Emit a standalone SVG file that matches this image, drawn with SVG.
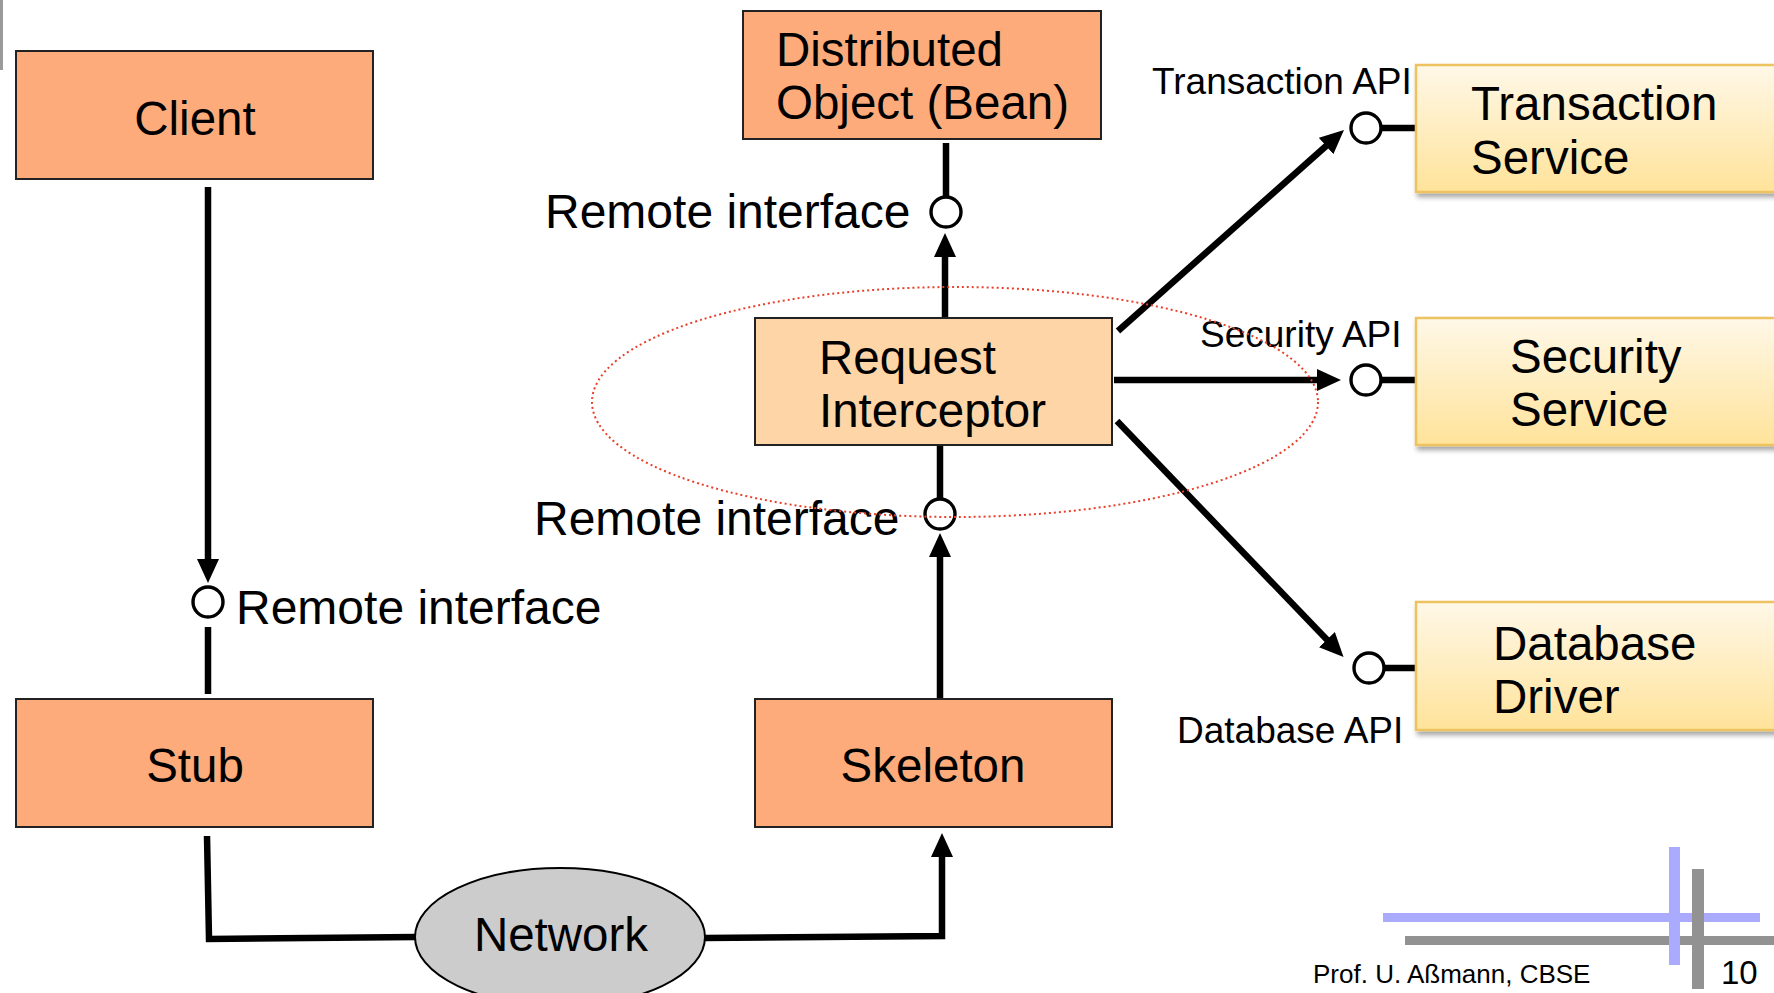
<svg xmlns="http://www.w3.org/2000/svg" width="1774" height="993" viewBox="0 0 1774 993">
<style>
  text { font-family: "Liberation Sans", Arial, Helvetica, sans-serif; fill: #000; }
  .big { font-size: 47.5px; }
  .lbl { font-size: 48px; }
  .api { font-size: 37px; }
  .box { fill: #FDAB7A; stroke: #222; stroke-width: 2; }
  .box2 { fill: #FED5A7; stroke: #222; stroke-width: 2; }
  .ybox { fill: url(#ygrad); stroke: #EDC261; stroke-width: 2.5; filter: url(#shadow); }
  .con { fill: none; stroke: #000; stroke-width: 6.5; }
  .arr { fill: none; stroke: #000; stroke-width: 6.5; marker-end: url(#ah); }
  .port { fill: #fff; stroke: #000; stroke-width: 3.4; }
</style>
<defs>
  <linearGradient id="ygrad" x1="0" y1="0" x2="0" y2="1">
    <stop offset="0" stop-color="#FFF8E8"/>
    <stop offset="1" stop-color="#FFE39A"/>
  </linearGradient>
  <filter id="shadow" x="-10%" y="-10%" width="130%" height="140%">
    <feDropShadow dx="2" dy="4" stdDeviation="2.5" flood-color="#000" flood-opacity="0.35"/>
  </filter>
  <marker id="ah" markerUnits="userSpaceOnUse" markerWidth="24" markerHeight="22" refX="14" refY="11" orient="auto">
    <path d="M0,0 L24,11 L0,22 z" fill="#000"/>
  </marker>
</defs>
<rect width="1774" height="993" fill="#fff"/>
<rect x="0" y="0" width="3" height="70" fill="#9a9a9a"/>

<g id="connectors">
  <!-- Client -> remote interface -->
  <path class="arr" d="M208,187 L208,573"/>
  <path class="con" d="M208,627 L208,694"/>
  <!-- Stub -> Network -->
  <path class="con" d="M207,836 L209,939 L416,937"/>
  <!-- Network -> Skeleton -->
  <path class="arr" d="M705,938 L942,936 L942,843"/>
  <!-- Skeleton -> Interceptor remote interface -->
  <path class="arr" d="M940,699 L940,543"/>
  <path class="con" d="M940,445 L940,498"/>
  <!-- Interceptor -> Distributed object remote interface -->
  <path class="arr" d="M945,318 L945,243"/>
  <path class="con" d="M946,143 L946,196"/>
  <!-- Interceptor -> services -->
  <path class="arr" d="M1118,331 L1336.5,136.7"/>
  <path class="arr" d="M1114,380 L1331,380"/>
  <path class="arr" d="M1117,421 L1336.6,649.8"/>
  <path class="con" d="M1381,128 L1417,128"/>
  <path class="con" d="M1381,380 L1417,380"/>
  <path class="con" d="M1384,668 L1417,668"/>
  <!-- ports -->
  <circle class="port" cx="208" cy="602" r="15"/>
  <circle class="port" cx="946" cy="212" r="15"/>
  <circle class="port" cx="940" cy="514" r="15"/>
  <circle class="port" cx="1366" cy="128" r="15"/>
  <circle class="port" cx="1366" cy="380" r="15"/>
  <circle class="port" cx="1369" cy="668" r="15"/>
</g>

<g id="client">
  <rect class="box" x="16" y="51" width="357" height="128"/>
  <text class="big" x="195" y="135" text-anchor="middle">Client</text>
</g>
<g id="stub">
  <rect class="box" x="16" y="699" width="357" height="128"/>
  <text class="big" x="195" y="782" text-anchor="middle">Stub</text>
</g>
<g id="skeleton">
  <rect class="box" x="755" y="699" width="357" height="128"/>
  <text class="big" x="933" y="782" text-anchor="middle">Skeleton</text>
</g>
<g id="distributed-object">
  <rect class="box" x="743" y="11" width="358" height="128"/>
  <text class="big" x="776" y="66">Distributed</text>
  <text class="big" x="776" y="119">Object (Bean)</text>
</g>
<g id="request-interceptor">
  <rect class="box2" x="755" y="318" width="357" height="127"/>
  <text class="big" x="819" y="374">Request</text>
  <text class="big" x="819" y="427">Interceptor</text>
</g>
<g id="network">
  <ellipse cx="560" cy="937" rx="145" ry="69" fill="#CCCCCC" stroke="#000" stroke-width="2"/>
  <text class="big" x="561" y="951" text-anchor="middle">Network</text>
</g>
<g id="transaction-service">
  <rect class="ybox" x="1416" y="65" width="370" height="127"/>
  <text class="big" x="1471" y="120">Transaction</text>
  <text class="big" x="1471" y="174">Service</text>
</g>
<g id="security-service">
  <rect class="ybox" x="1416" y="318" width="370" height="127"/>
  <text class="big" x="1510" y="373">Security</text>
  <text class="big" x="1510" y="426">Service</text>
</g>
<g id="database-driver">
  <rect class="ybox" x="1416" y="602" width="370" height="128"/>
  <text class="big" x="1493" y="660">Database</text>
  <text class="big" x="1493" y="713">Driver</text>
</g>

<g id="labels">
  <text class="lbl" x="545" y="228">Remote interface</text>
  <text class="lbl" x="534" y="535">Remote interface</text>
  <text class="lbl" x="236" y="624">Remote interface</text>
  <text class="api" x="1152" y="94">Transaction API</text>
  <text class="api" x="1200" y="347">Security API</text>
  <text class="api" x="1177" y="743">Database API</text>
</g>

<g id="interceptor-scope">
  <ellipse cx="955" cy="402" rx="363" ry="115" fill="none" stroke="#E8402A" stroke-width="2" stroke-dasharray="2 3"/>
</g>

<g id="footer">
  <rect x="1405" y="936" width="369" height="9" fill="#929292"/>
  <rect x="1383" y="913" width="377" height="9" fill="#AAAAFF"/>
  <rect x="1669" y="847" width="11" height="118" fill="#AAAAFF"/>
  <rect x="1692" y="869" width="12" height="120" fill="#929292"/>
  <text x="1313" y="983" style="font-size:26px">Prof. U. Aßmann, CBSE</text>
  <text x="1721" y="984" style="font-size:33px">10</text>
</g>
</svg>
